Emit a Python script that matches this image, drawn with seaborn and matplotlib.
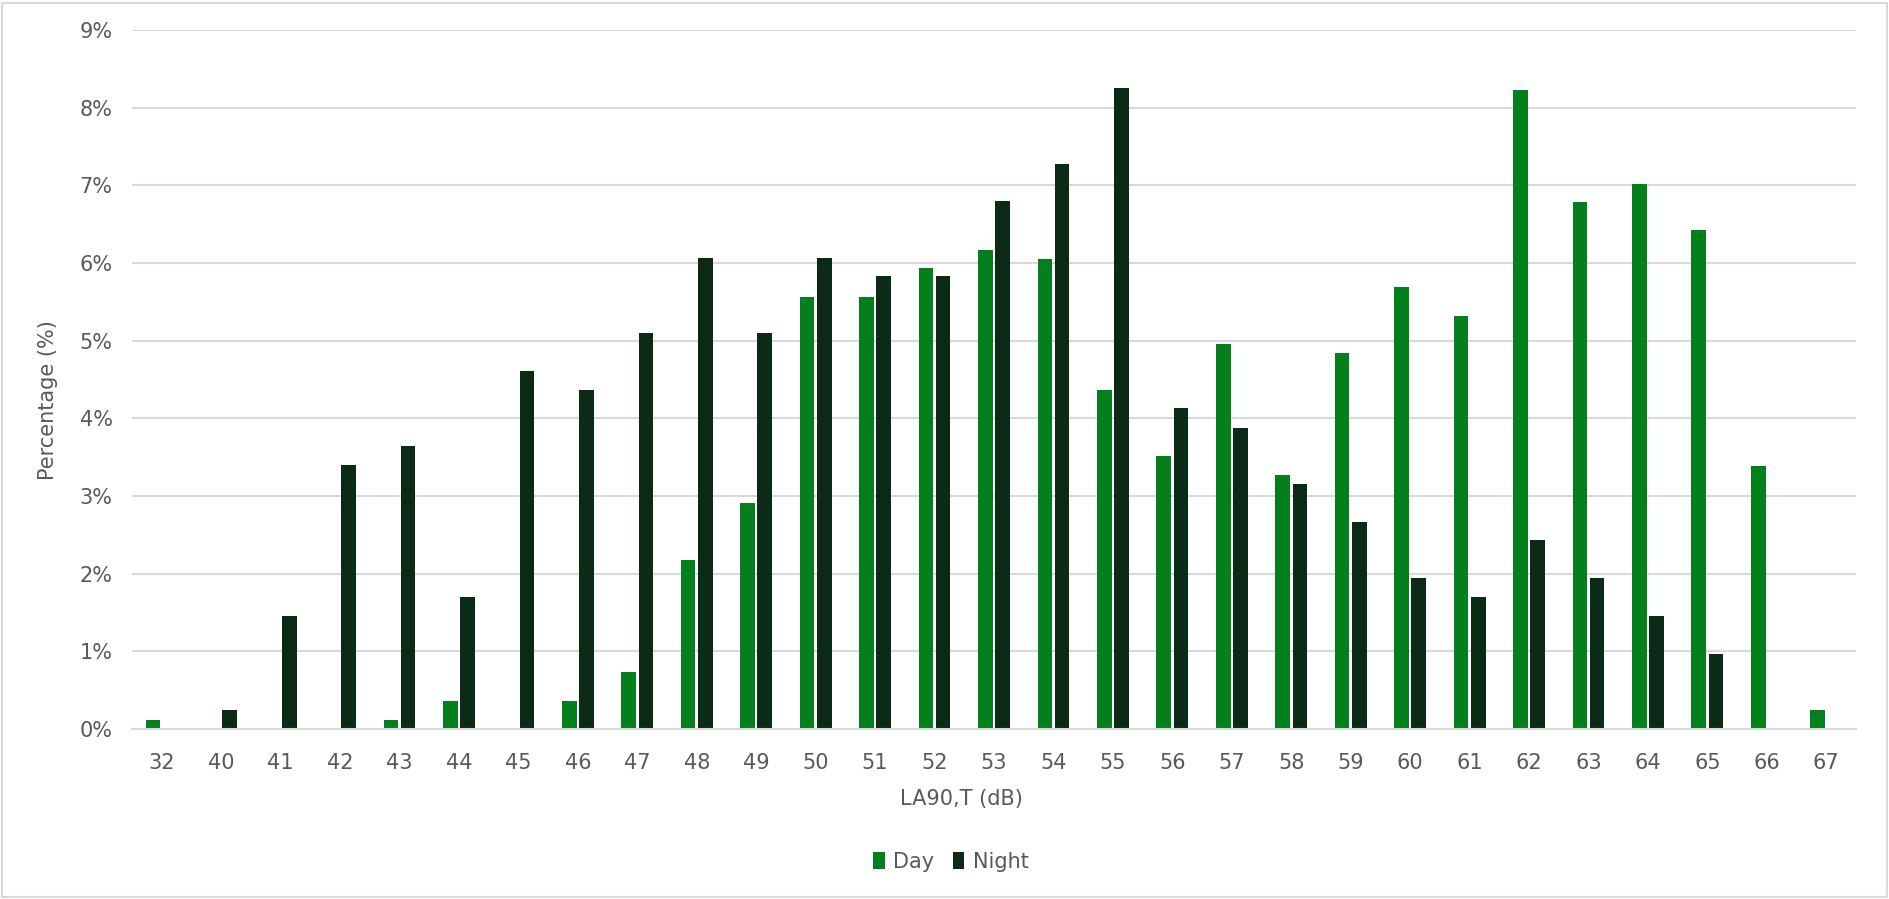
import matplotlib
matplotlib.use("Agg")
import matplotlib.pyplot as plt
import matplotlib.ticker as mticker
from matplotlib.patches import Rectangle
import seaborn as sns
import pandas as pd

levels = ["32", "40", "41", "42", "43", "44", "45", "46", "47", "48", "49", "50",
          "51", "52", "53", "54", "55", "56", "57", "58", "59", "60", "61", "62",
          "63", "64", "65", "66", "67"]
day = [0.12, 0, 0, 0, 0.12, 0.36, 0, 0.36, 0.73, 2.18, 2.91, 5.56,
       5.56, 5.93, 6.17, 6.05, 4.36, 3.51, 4.96, 3.27, 4.84, 5.69, 5.32, 8.23,
       6.78, 7.02, 6.42, 3.39, 0.24]
night = [0, 0.24, 1.46, 3.40, 3.64, 1.70, 4.61, 4.37, 5.10, 6.07, 5.10, 6.07,
         5.83, 5.83, 6.80, 7.28, 8.25, 4.13, 3.88, 3.16, 2.67, 1.94, 1.70, 2.43,
         1.94, 1.46, 0.97, 0, 0]
series = ["Day", "Night"]
colors = ["#03801c", "#0b2b16"]
yticks = list(range(0, 10))

df = pd.DataFrame({
    "level": levels * 2,
    "pct": day + night,
    "period": [series[0]] * len(levels) + [series[1]] * len(levels),
})

sns.set_theme(style="white")
plt.rcParams["font.family"] = ["DejaVu Sans"]

W, H, DPI = 1890, 899, 100
fig = plt.figure(figsize=(W / DPI, H / DPI), dpi=DPI)
ax = fig.add_axes([132 / W, 1 - 729 / H, (1856 - 132) / W, (729 - 30) / H])

sns.barplot(data=df, x="level", y="pct", hue="period", order=levels,
            hue_order=series, palette=colors, width=0.58, gap=0.15,
            linewidth=0, saturation=1, ax=ax, legend=True)

ax.set_ylim(0, 9)
ax.set_xlim(-0.5, len(levels) - 0.5)
ax.set_yticks(yticks)
ax.yaxis.set_major_formatter(mticker.FuncFormatter(lambda v, p: f"{int(v)}%"))
ax.yaxis.grid(True, color="#d9d9d9", linewidth=1.5)
ax.set_axisbelow(True)
for s in ["top", "right", "left"]:
    ax.spines[s].set_visible(False)
ax.spines["bottom"].set_color("#d9d9d9")
ax.spines["bottom"].set_linewidth(1.5)
ax.tick_params(axis="both", length=0, labelsize=15, labelcolor="#595959")
ax.tick_params(axis="y", pad=14)
ax.tick_params(axis="x", pad=17)

ax.set_xlabel("LA90,T (dB)", fontsize=15, color="#595959")
ax.xaxis.set_label_coords(0.481, -0.086)
ax.set_ylabel("Percentage (%)", fontsize=15, color="#595959")
ax.yaxis.set_label_coords(-0.043, 0.47)

handles, labels = ax.get_legend_handles_labels()
ax.legend(handles, labels, loc="center", bbox_to_anchor=(0.475, -0.19),
          ncol=2, frameon=False, fontsize=15, handlelength=0.55,
          handleheight=0.85, handletextpad=0.4, columnspacing=0.9,
          labelcolor="#595959")

fig.patches.append(Rectangle((2 / W, 2 / H), 1 - 5 / W, 1 - 5 / H,
                             transform=fig.transFigure, fill=False,
                             edgecolor="#d9d9d9", linewidth=1.5))

fig.savefig("out.png", dpi=DPI)
